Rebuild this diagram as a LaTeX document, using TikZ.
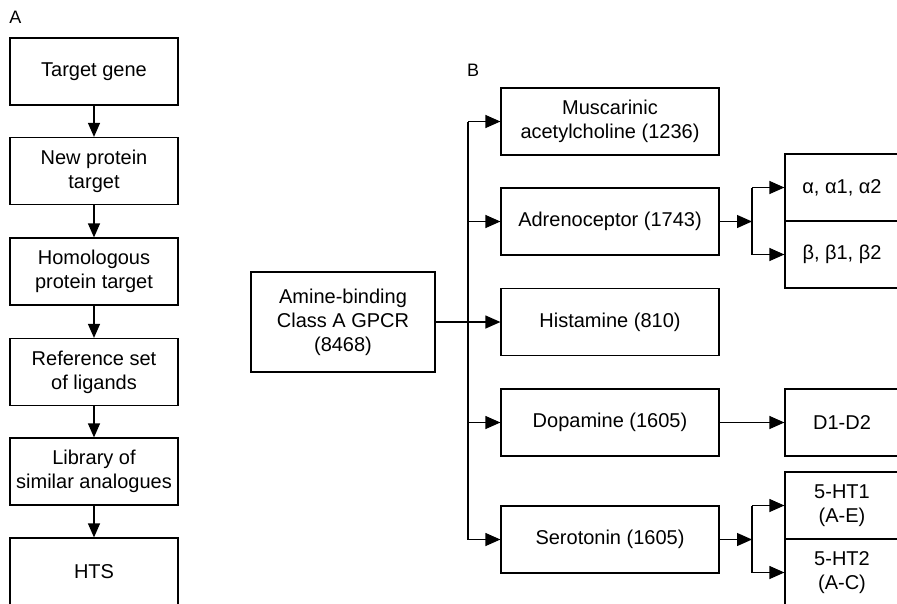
\documentclass[tikz,border=0pt]{standalone}
\usepackage{fontspec}
\setmainfont{Liberation Sans}
\usetikzlibrary{arrows.meta}
\begin{document}
\begin{tikzpicture}[x=1pt,y=-1pt,
  box/.style={draw, line width=1.2pt, rectangle, inner sep=0pt, align=center,
    font=\fontsize{20}{24}\selectfont},
  lbox/.style={box, minimum width=168pt, minimum height=67pt},
  mbox/.style={box, minimum width=218pt, minimum height=67pt},
  rbox/.style={box, minimum width=114pt, minimum height=67pt},
  conn/.style={line width=1.2pt},
  arr/.style={line width=1.2pt, -{Triangle[length=15pt,width=13pt]}},
  varr/.style={line width=1.2pt, -{Triangle[length=14pt,width=12pt]}},
  panel/.style={inner sep=0pt, font=\fontsize{18}{21}\selectfont}
]
\useasboundingbox (0,0) rectangle (897,603);
\clip (0,0) rectangle (897,603);
% Panel A
\node[panel] (labA) at (15.5,17.5) {A};
\node[lbox] (a1) at (94,71.5) {Target gene};
\node[lbox] (a2) at (94,171) {New protein\\target};
\node[lbox] (a3) at (94,271.5) {Homologous\\protein target};
\node[lbox] (a4) at (94,372) {Reference set\\of ligands};
\node[lbox] (a5) at (94,471.5) {Library of\\similar analogues};
\node[lbox, minimum height=68pt] (a6) at (94,572) {HTS};
\draw[varr] (a1) -- (a2);
\draw[varr] (a2) -- (a3);
\draw[varr] (a3) -- (a4);
\draw[varr] (a4) -- (a5);
\draw[varr] (a5) -- (a6);
% Panel B
\node[panel] (labB) at (473,70) {B};
\node[box, minimum width=184pt, minimum height=100pt] (amine) at (343,322) {Amine-binding\\Class A GPCR\\(8468)};
\node[mbox] (musc) at (610,121.5) {Muscarinic\\acetylcholine (1236)};
\node[mbox] (adr) at (610,221.5) {Adrenoceptor (1743)};
\node[mbox] (hist) at (610,322) {Histamine (810)};
\node[mbox] (dop) at (610,422.5) {Dopamine (1605)};
\node[mbox] (ser) at (610,539.5) {Serotonin (1605)};
\node[rbox] (alpha) at (842,187.5) {α, α1, α2};
\node[rbox] (beta) at (842,254.5) {β, β1, β2};
\node[rbox] (d12) at (842,422.5) {D1-D2};
\node[rbox] (ht1) at (842,505.5) {5-HT1\\(A-E)};
\node[rbox, minimum height=68pt] (ht2) at (842,572.5) {5-HT2\\(A-C)};
% trunk
\coordinate (tx) at (468,0);
\draw[conn] (tx |- musc.west) -- (tx |- ser.west);
\draw[arr] (amine.east) -- (hist.west);
\draw[arr] (tx |- musc.west) -- (musc.west);
\draw[arr] (tx |- adr.west) -- (adr.west);
\draw[arr] (tx |- dop.west) -- (dop.west);
\draw[arr] (tx |- ser.west) -- (ser.west);
% adrenoceptor split
\coordinate (sa) at (752,221.5);
\draw[arr] (adr.east) -- (sa);
\draw[conn] (sa |- alpha.west) -- (sa |- beta.west);
\draw[arr] (sa |- alpha.west) -- (alpha.west);
\draw[arr] (sa |- beta.west) -- (beta.west);
% dopamine
\draw[arr] (dop.east) -- (d12.west);
% serotonin split
\coordinate (ss) at (752,539.5);
\draw[arr] (ser.east) -- (ss);
\draw[conn] (ss |- ht1.west) -- (ss |- ht2.west);
\draw[arr] (ss |- ht1.west) -- (ht1.west);
\draw[arr] (ss |- ht2.west) -- (ht2.west);
\end{tikzpicture}
\end{document}
